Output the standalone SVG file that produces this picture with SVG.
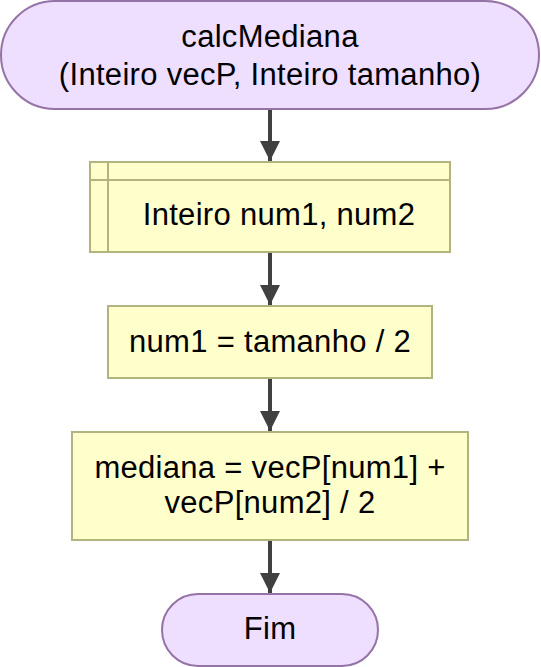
<svg xmlns="http://www.w3.org/2000/svg" width="541" height="667" viewBox="0 0 541 667">
<defs>
<style>
.term{fill:#eedeff;stroke:#9673a6;stroke-width:2}
.proc{fill:#ffffcc;stroke:#b3b380;stroke-width:2}
.lbl{font-family:"Liberation Sans",Arial,sans-serif;font-size:31px;letter-spacing:0.3px;fill:#000;text-anchor:middle}
.edge{stroke:#404040;stroke-width:4;fill:none}
</style>
<marker id="ah" markerWidth="5" markerHeight="5" refX="5" refY="2.5" orient="auto" markerUnits="strokeWidth">
<path d="M0,0 L5,2.5 L0,5 Z" fill="#404040"/>
</marker>
</defs>
<g id="connectors">
<path class="edge" d="M270,110 L270,161" marker-end="url(#ah)"/>
<path class="edge" d="M270,253 L270,305" marker-end="url(#ah)"/>
<path class="edge" d="M270,379 L270,431" marker-end="url(#ah)"/>
<path class="edge" d="M270,541 L270,593" marker-end="url(#ah)"/>
</g>
<g id="start">
<rect class="term" x="1" y="1" width="538" height="108" rx="54" ry="54"/>
<text class="lbl" x="270" y="47">calcMediana</text>
<text class="lbl" x="270" y="85">(Inteiro vecP, Inteiro tamanho)</text>
</g>
<g id="decl">
<rect class="proc" x="90" y="162" width="360" height="90"/>
<line class="proc" x1="108" y1="162" x2="108" y2="252"/>
<line class="proc" x1="90" y1="180" x2="450" y2="180"/>
<text class="lbl" x="279" y="225">Inteiro num1, num2</text>
</g>
<g id="assign1">
<rect class="proc" x="108" y="306" width="324" height="72"/>
<text class="lbl" x="270" y="352">num1 = tamanho / 2</text>
</g>
<g id="assign2">
<rect class="proc" x="72" y="432" width="396" height="108"/>
<text class="lbl" x="270" y="478">mediana = vecP[num1] +</text>
<text class="lbl" x="270" y="513">vecP[num2] / 2</text>
</g>
<g id="end">
<rect class="term" x="162" y="594" width="216" height="72" rx="36" ry="36"/>
<text class="lbl" x="270" y="639">Fim</text>
</g>
</svg>
